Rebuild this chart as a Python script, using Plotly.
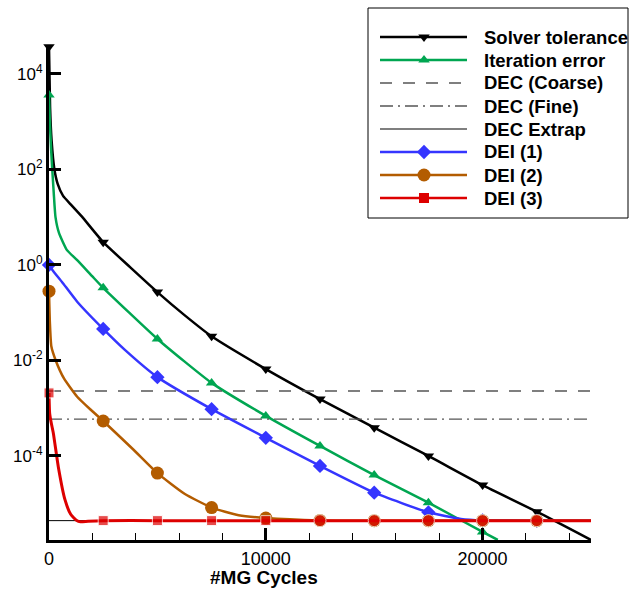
import plotly.graph_objects as go

# ---------------- data ----------------
tol_x = [0, 50, 120, 250, 400, 650, 1000, 1500, 2500, 3750, 5000, 6250, 7500,
         10000, 12500, 15000, 17500, 20000, 22500, 25000]
tol_y = [3.7e4, 2.0e3, 4.0e2, 1.0e2, 5.0e1, 2.8e1, 1.86e1, 1.05e1, 3.0e0, 8.9e-1,
         2.7e-1, 8.9e-2, 3.2e-2, 6.6e-3, 1.55e-3, 3.9e-4, 1.0e-4, 2.45e-5, 6.8e-6, 1.74e-6]

it_x = [0, 40, 100, 150, 220, 300, 460, 830, 1300, 2000, 2500, 5000, 7500,
        10000, 12500, 15000, 17500, 20000, 20700]
it_y = [3.63e3, 1.0e3, 2.5e2, 1.0e2, 3.16e1, 1.0e1, 4.68e0, 2.04e0, 1.26e0, 5.75e-1,
        3.31e-1, 2.82e-2, 3.39e-3, 6.9e-4, 1.62e-4, 3.98e-5, 1.05e-5, 2.57e-6, 1.74e-6]

dei1_x = [0, 200, 600, 1300, 2500, 3500, 5000, 7500, 10000, 12500, 15000, 17500,
          19000, 20000, 22500, 25000]
dei1_y = [1.0e0, 7.4e-1, 4.4e-1, 1.7e-1, 4.57e-2, 1.66e-2, 4.47e-3, 9.55e-4, 2.4e-4,
          6.17e-5, 1.7e-5, 6.6e-6, 4.8e-6, 4.47e-6, 4.42e-6, 4.42e-6]

dei2_x = [0, 40, 110, 310, 690, 1300, 1900, 2500, 3900, 5000, 6250, 7500, 8750, 10000,
          12500, 15000, 17500, 20000, 22500, 25000]
dei2_y = [2.82e-1, 6.3e-2, 1.95e-2, 1.0e-2, 4.2e-3, 1.74e-3, 9.5e-4, 5.4e-4, 1.35e-4,
          4.37e-5, 1.62e-5, 8.3e-6, 5.75e-6, 5.0e-6, 4.47e-6, 4.42e-6, 4.42e-6,
          4.42e-6, 4.42e-6, 4.42e-6]

dei3_x = [0, 30, 100, 200, 430, 740, 1000, 1280, 1450, 1800, 2500, 5000, 7500,
          10000, 12500, 15000, 17500, 20000, 22500, 25000]
dei3_y = [2.09e-3, 7.9e-4, 5.0e-4, 3.0e-4, 5.9e-5, 1.2e-5, 6.0e-6, 4.45e-6, 4.2e-6,
          4.3e-6, 4.42e-6, 4.42e-6, 4.42e-6, 4.42e-6, 4.42e-6, 4.42e-6, 4.42e-6,
          4.42e-6, 4.42e-6, 4.42e-6]

dec_x = [0, 25000]
dec_coarse = 2.29e-3
dec_fine = 5.9e-4
dec_extrap = 4.42e-6

x_ticks = [0, 10000, 20000]
y_ticks = [1e-4, 1e-2, 1e0, 1e2, 1e4]
y_ticktext = ["10<sup>-4</sup>", "10<sup>-2</sup>", "10<sup>0</sup>",
              "10<sup>2</sup>", "10<sup>4</sup>"]

legend_names = ["Solver tolerance", "Iteration error", "DEC (Coarse)", "DEC (Fine)",
                "DEC Extrap", "DEI (1)", "DEI (2)", "DEI (3)"]

# ---------------- styles ----------------
FONT = "Liberation Sans, Arial, sans-serif"
C_BLACK = "#000000"
C_GREEN = "#00a651"
C_BLUE = "#3535ff"
C_ORANGE = "#b35c00"
C_RED = "#dd0000"
C_GRAY = "#555555"
DASH_COARSE = "12px,11px"
DASH_FINE = "13px,5px,2px,5px"
MARK_STEP = 2500

W, H = 633, 589
ML, MB = 49, 49                 # margins (left / bottom); top and right are 0
PLOT_RIGHT, PLOT_TOP = 591, 46.7  # pixel edges of the data area
PAPER_W, PAPER_H = W - ML, H - MB


def px_x(px):
    return (px - ML) / PAPER_W


def px_y(py):
    return (PAPER_H - py) / PAPER_H


def marked(xs, ys, xmax=None):
    mx, my = [], []
    for a, b in zip(xs, ys):
        if a % MARK_STEP == 0 and (xmax is None or a <= xmax):
            mx.append(a)
            my.append(b)
    return mx, my


fig = go.Figure()
LINE_SHAPE = dict(shape="spline", smoothing=0.5)

# black solver tolerance
fig.add_trace(go.Scatter(x=tol_x, y=tol_y, mode="lines",
                         line=dict(color=C_BLACK, width=2.5, **LINE_SHAPE)))
mx, my = marked(tol_x, tol_y, 22500)
fig.add_trace(go.Scatter(x=mx, y=my, mode="markers", cliponaxis=False,
                         marker=dict(symbol="triangle-down", size=10, color=C_BLACK)))

# green iteration error
fig.add_trace(go.Scatter(x=it_x, y=it_y, mode="lines",
                         line=dict(color=C_GREEN, width=2.5, **LINE_SHAPE)))
mx, my = marked(it_x, it_y)
fig.add_trace(go.Scatter(x=mx, y=my, mode="markers", cliponaxis=False,
                         marker=dict(symbol="triangle-up", size=10, color=C_GREEN)))

# DEC lines
fig.add_trace(go.Scatter(x=dec_x, y=[dec_coarse] * 2, mode="lines",
                         line=dict(color=C_GRAY, width=1.3, dash=DASH_COARSE)))
fig.add_trace(go.Scatter(x=dec_x, y=[dec_fine] * 2, mode="lines",
                         line=dict(color=C_GRAY, width=1.3, dash=DASH_FINE)))
fig.add_trace(go.Scatter(x=dec_x, y=[dec_extrap] * 2, mode="lines",
                         line=dict(color=C_BLACK, width=1)))

# blue DEI(1)
fig.add_trace(go.Scatter(x=dei1_x, y=dei1_y, mode="lines",
                         line=dict(color=C_BLUE, width=2.5, **LINE_SHAPE)))
mx, my = marked(dei1_x, dei1_y, 22500)
fig.add_trace(go.Scatter(x=mx, y=my, mode="markers", cliponaxis=False,
                         marker=dict(symbol="diamond", size=11, color=C_BLUE)))

# orange DEI(2)
fig.add_trace(go.Scatter(x=dei2_x, y=dei2_y, mode="lines",
                         line=dict(color=C_ORANGE, width=2.5, **LINE_SHAPE)))
mx, my = marked(dei2_x, dei2_y, 22500)
fig.add_trace(go.Scatter(x=mx, y=my, mode="markers", cliponaxis=False,
                         marker=dict(symbol="circle", size=13, color=C_ORANGE)))

# red DEI(3)
fig.add_trace(go.Scatter(x=dei3_x, y=dei3_y, mode="lines",
                         line=dict(color=C_RED, width=3, **LINE_SHAPE)))
mx, my = marked(dei3_x, dei3_y, 22500)
fig.add_trace(go.Scatter(x=mx, y=my, mode="markers", cliponaxis=False,
                         marker=dict(symbol=["square" if v <= 10000 else "circle" for v in mx],
                                     size=[10 if v <= 10000 else 12 for v in mx],
                                     color=C_RED)))

# ---------------- Tecplot-style legend (pixel-unit overlay axes) ----------------
row_y = [37, 60, 83, 106, 129, 152, 175, 198]
LX0, LX1, LXM, LXT = 380, 467, 424, 482
leg_lines = [
    dict(color=C_BLACK, width=2.5),
    dict(color=C_GREEN, width=2.5),
    dict(color=C_GRAY, width=1.3, dash=DASH_COARSE),
    dict(color=C_GRAY, width=1.3, dash=DASH_FINE),
    dict(color=C_GRAY, width=1.3),
    dict(color=C_BLUE, width=2.5),
    dict(color=C_ORANGE, width=2.5),
    dict(color=C_RED, width=2.5),
]
leg_markers = [("triangle-down", 10, C_BLACK), ("triangle-up", 10, C_GREEN), None, None, None,
               ("diamond", 11, C_BLUE), ("circle", 13, C_ORANGE), ("square", 10, C_RED)]

annotations = []
for name, ry, ln, mk in zip(legend_names, row_y, leg_lines, leg_markers):
    fig.add_trace(go.Scatter(x=[LX0, LX1], y=[ry, ry], xaxis="x2", yaxis="y2",
                             mode="lines", line=ln, hoverinfo="skip"))
    if mk:
        fig.add_trace(go.Scatter(x=[LXM], y=[ry], xaxis="x2", yaxis="y2", mode="markers",
                                 marker=dict(symbol=mk[0], size=mk[1], color=mk[2]),
                                 hoverinfo="skip"))
    annotations.append(dict(text="<b>%s</b>" % name, xref="paper", yref="paper",
                            x=px_x(LXT), y=px_y(ry), xanchor="left", yanchor="middle",
                            showarrow=False, font=dict(family=FONT, size=18.5, color="black")))

shapes = [dict(type="rect", xref="paper", yref="paper",
               x0=px_x(368), x1=px_x(628), y0=px_y(218), y1=px_y(8),
               line=dict(color="black", width=1), fillcolor="white", layer="below")]

annotations.append(dict(text="<b>#MG Cycles</b>", xref="paper", yref="paper",
                        x=px_x(264), y=px_y(577), xanchor="center", yanchor="middle",
                        showarrow=False, font=dict(family=FONT, size=19, color="black")))

fig.update_layout(
    width=W, height=H,
    margin=dict(l=ML, r=0, t=0, b=MB, pad=0),
    paper_bgcolor="white", plot_bgcolor="rgba(0,0,0,0)",
    font=dict(family=FONT, color="black"),
    showlegend=False,
    xaxis=dict(domain=[0, px_x(PLOT_RIGHT)], range=[0, 25000], showgrid=False, zeroline=False,
               showline=True, linecolor="black", linewidth=3,
               ticks="inside", ticklen=12, tickwidth=2.5, tickcolor="black",
               tickmode="array", tickvals=x_ticks, ticktext=[str(v) for v in x_ticks],
               tickfont=dict(family=FONT, size=18),
               minor=dict(ticks="inside", tick0=0, dtick=2000, ticklen=7,
                          tickwidth=1.3, tickcolor="black", showgrid=False)),
    yaxis=dict(domain=[0, px_y(PLOT_TOP)], type="log", range=[-5.76, 4.57],
               showgrid=False, zeroline=False,
               showline=True, linecolor="black", linewidth=3,
               ticks="inside", ticklen=12, tickwidth=2.5, tickcolor="black",
               tickmode="array", tickvals=y_ticks, ticktext=y_ticktext,
               tickfont=dict(family=FONT, size=17)),
    xaxis2=dict(domain=[0, 1], range=[ML, W], anchor="y2", visible=False, fixedrange=True),
    yaxis2=dict(domain=[0, 1], range=[H - MB, 0], anchor="x2", visible=False, fixedrange=True),
    shapes=shapes,
    annotations=annotations,
)

fig.write_html("out.html")
